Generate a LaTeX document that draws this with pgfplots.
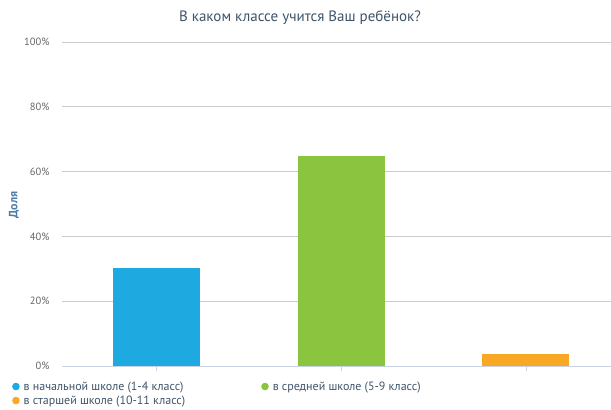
\documentclass[border=0pt]{standalone}
\usepackage{fontspec}
\setmainfont{PT Sans}
\usepackage{pgfplots}
\pgfplotsset{compat=1.18}
\definecolor{cblue}{HTML}{1EAAE1}
\definecolor{cgreen}{HTML}{8BC540}
\definecolor{corange}{HTML}{F9A825}
\definecolor{ctitle}{HTML}{3E5468}
\definecolor{cylab}{HTML}{4F7BA8}
\definecolor{cgrid}{HTML}{CCCCCC}
\definecolor{caxis}{HTML}{C8D4E3}
\definecolor{ctick}{HTML}{666666}
\begin{document}
\begin{tikzpicture}
\path[use as bounding box] (0bp,0bp) rectangle (611bp,410bp);
\begin{axis}[
  at={(62bp,44bp)}, anchor=south west,
  scale only axis, width=549bp, height=324bp,
  xmin=-0.51, xmax=2.46, ymin=0, ymax=100,
  axis line style={draw=none},
  ytick={0,20,40,60,80,100},
  yticklabel={\pgfmathprintnumber{\tick}\%},
  /pgf/number format/assume math mode=true,
  yticklabel style={font=\fontsize{10.5bp}{12bp}\selectfont, text=ctick, xshift=-4bp},
  major y tick style={draw=none},
  ymajorgrids, grid style={cgrid, line width=0.8bp},
  xtick={0,1,2}, xticklabels={},
  xtick style={draw=caxis, line width=0.8bp},
  major tick length=5bp,
  xtick pos=bottom, tick align=outside,
  extra y ticks={0}, extra y tick labels={},
  extra y tick style={grid style={caxis, line width=1bp}},
  legend columns=2,
  legend cell align=left,
  legend style={at={(-0.093,-0.038)}, anchor=north west, draw=none, fill=none,
    inner sep=1bp,
    font=\fontsize{12bp}{14bp}\selectfont, text=ctitle,
    /tikz/every odd column/.append style={column sep=2bp},
    /tikz/every even column/.append style={column sep=74bp},
    row sep=0bp},
  legend image code/.code={\fill[#1] (3bp,0bp) circle (3.8bp);},
]
\addplot[ybar, bar width=87bp, bar shift=0pt, fill=cblue, draw=none] coordinates {(0,30.3)};
\addlegendentry{в начальной школе (1-4 класс)}
\addplot[ybar, bar width=87bp, bar shift=0pt, fill=cgreen, draw=none] coordinates {(1,64.8)};
\addlegendentry{в средней школе (5-9 класс)}
\addplot[ybar, bar width=87bp, bar shift=0pt, fill=corange, draw=none] coordinates {(2,3.7)};
\addlegendentry{в старшей школе (10-11 класс)}
\end{axis}
\node[font=\fontsize{15bp}{18bp}\selectfont, text=ctitle] at (300bp,392bp) {В каком классе учится Ваш ребёнок?};
\node[font=\fontsize{12bp}{14bp}\selectfont\bfseries, text=cylab, rotate=90] at (14bp,205bp) {Доля};
\end{tikzpicture}
\end{document}
